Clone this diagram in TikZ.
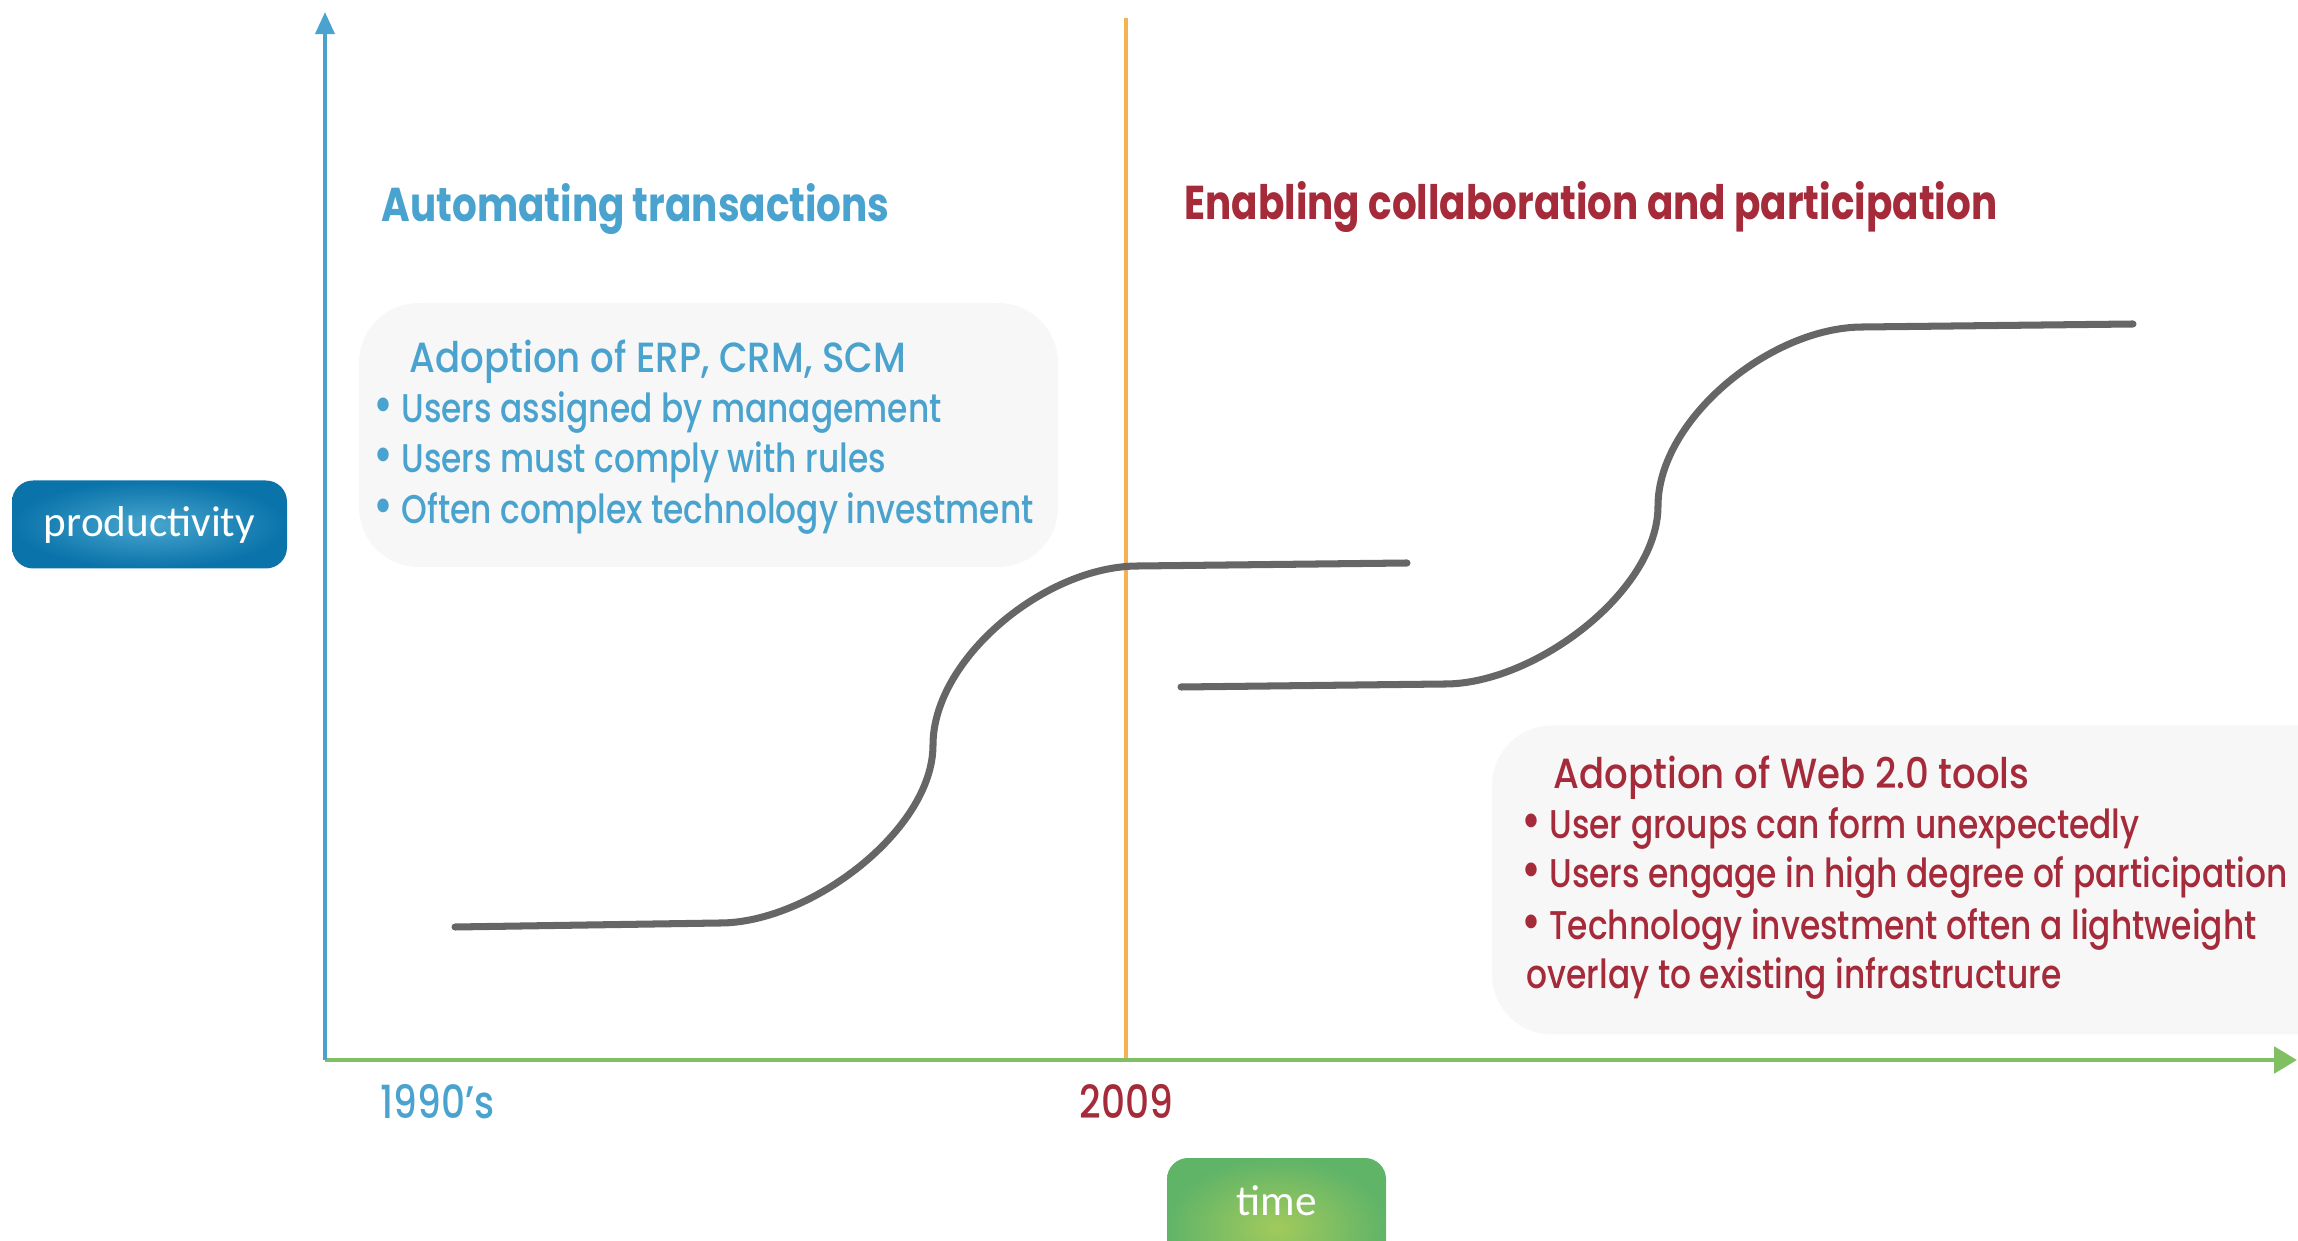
\documentclass[tikz,border=0pt]{standalone}
\usepackage{fontspec}
\usetikzlibrary{arrows.meta}
\newfontfamily\gothic[FakeStretch=0.82]{Poppins}
\newfontfamily\gothicmed[FakeStretch=0.82]{Poppins Medium}
\newfontfamily\gothichead[FakeStretch=0.88]{Poppins Medium}
\newfontfamily\uifont{Carlito}
\newcommand{\bigdot}{{\fontsize{15}{15}\selectfont\textbullet}\hspace{2.2pt}}
\definecolor{tblue}{RGB}{74,163,206}
\definecolor{tred}{RGB}{165,42,58}
\definecolor{axgreen}{RGB}{128,192,98}
\definecolor{axorange}{RGB}{245,178,85}
\definecolor{boxgray}{RGB}{247,247,247}
\definecolor{curvegray}{RGB}{102,102,102}
\definecolor{pbout}{RGB}{10,115,170}
\definecolor{pbin}{RGB}{72,166,206}
\definecolor{tgout}{RGB}{96,180,104}
\definecolor{tgin}{RGB}{162,202,92}
\begin{document}
\begin{tikzpicture}[x=0.1mm,y=-0.1mm,
  infobox/.style={fill=boxgray, draw=none, rounded corners=17pt, inner sep=0pt},
  bodytext/.style={anchor=base west, inner sep=0pt, font=\gothicmed\fontsize{11.4}{13}\selectfont},
  boxhead/.style={anchor=base west, inner sep=0pt, font=\gothichead\fontsize{12}{14}\selectfont},
  bigtitle/.style={anchor=base west, inner sep=0pt, font=\gothic\bfseries\fontsize{13.5}{15}\selectfont},
  yeartext/.style={anchor=base west, inner sep=0pt, font=\gothicmed\fontsize{13}{14}\selectfont},
  pill/.style={rounded corners=6pt, draw=none, inner sep=0pt, text=white, font=\uifont\fontsize{12.3}{14}\selectfont},
  curveline/.style={draw=curvegray, line width=2pt, line cap=round},
]
\useasboundingbox (0,0) rectangle (2298,1241);
\clip (0,0) rectangle (2298,1241);

% boxes
\node[infobox, minimum width=69.9mm, minimum height=26.4mm] (box1) at (708.5,435) {};
\node[infobox, minimum width=86.8mm, minimum height=30.9mm] (box2) at (1926,880) {};

% axes
\coordinate (O) at (325,1060);
\coordinate (ytop) at (325,12);
\coordinate (xend) at (2297,1060);
\coordinate (vtop) at (1126,18);
\coordinate (vbot) at (1126,1060);
\draw[axorange, line width=0.9pt] (vtop) -- (vbot);
\draw[axgreen, line width=1.4pt, -{Triangle[width=7.4pt,length=6.5pt]}] (O) -- (xend);
\draw[tblue, line width=1.15pt, -{Triangle[width=5.4pt,length=6.3pt]}] (O) -- (ytop);

% curves
\draw[curveline] (455,927) -- (720,923) .. controls (810,923) and (933,830) .. (933,745)
  .. controls (933,659) and (1045,566) .. (1138,566) -- (1407,563);
\draw[curveline] (1181,687) -- (1445,684) .. controls (1535,684) and (1658,591) .. (1658,506)
  .. controls (1658,420) and (1770,327) .. (1863,327) -- (2133,324);

% titles
\node[bigtitle, text=tblue] (ttl1) at (381,222) {Automating transactions};
\node[bigtitle, text=tred] (ttl2) at (1184,220) {Enabling collaboration and participation};

% box 1 text
\node[boxhead, text=tblue] (t1) at (409,373) {Adoption of ERP, CRM, SCM};
\node[bodytext, text=tblue] (b1a) at (373,423) {\bigdot Users assigned by management};
\node[bodytext, text=tblue] (b1b) at (373,473) {\bigdot Users must comply with rules};
\node[bodytext, text=tblue] (b1c) at (373,524) {\bigdot Often complex technology investment};

% box 2 text
\node[boxhead, text=tred] (t2) at (1553,789) {Adoption of Web 2.0 tools};
\node[bodytext, text=tred] (b2a) at (1521,839) {\bigdot User groups can form unexpectedly};
\node[bodytext, text=tred] (b2b) at (1521,888) {\bigdot Users engage in high degree of participation};
\node[bodytext, text=tred] (b2c) at (1521,939) {\bigdot Technology investment often a lightweight};
\node[bodytext, text=tred] (b2d) at (1526,988) {overlay to existing infrastructure};

% years
\node[yeartext, text=tblue] (y1) at (380,1118) {1990’s};
\node[yeartext, text=tred] (y2) at (1079,1118) {2009};

% pills
\node[pill, minimum width=27.5mm, minimum height=8.8mm, inner color=pbin, outer color=pbout] (prod) at (149.5,524.5) {productivity};
\node[pill, minimum width=21.9mm, minimum height=14mm, inner color=tgin, outer color=tgout] (timebox) at (1276.5,1228) {};
\node[anchor=base, inner sep=0pt, text=white, font=\uifont\fontsize{12.3}{14}\selectfont] (timelbl) at (1276.5,1215) {time};
\end{tikzpicture}
\end{document}
